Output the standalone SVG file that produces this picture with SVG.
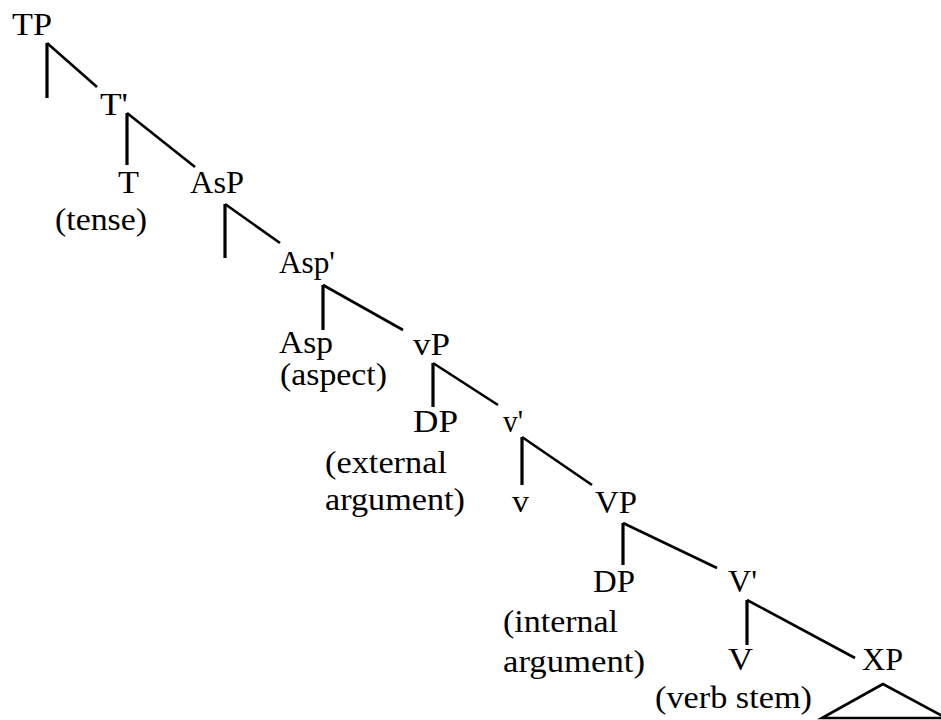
<svg xmlns="http://www.w3.org/2000/svg" width="941" height="720" viewBox="0 0 941 720">
<style>
text { font-family: "Liberation Serif", "Times New Roman", serif; font-size: 31px; fill: #000; }
.br { stroke: #000; stroke-width: 2.6; fill: none; stroke-linecap: butt; }
.vt { stroke: #000; stroke-width: 3.2; fill: none; }
</style>
<rect width="941" height="720" fill="#fff"/>
<g id="connectors">
  <line class="vt" x1="47" y1="43" x2="47" y2="98"/>
  <line class="br" x1="47" y1="43" x2="97" y2="87"/>
  <line class="vt" x1="127" y1="113" x2="127" y2="165"/>
  <line class="br" x1="127" y1="113" x2="195" y2="167"/>
  <line class="vt" x1="225" y1="204" x2="225" y2="258"/>
  <line class="br" x1="225" y1="204" x2="280" y2="243"/>
  <line class="vt" x1="323" y1="285" x2="323" y2="330"/>
  <line class="br" x1="323" y1="285" x2="403" y2="330"/>
  <line class="vt" x1="433" y1="363" x2="433" y2="407"/>
  <line class="br" x1="433" y1="363" x2="498" y2="405"/>
  <line class="vt" x1="522" y1="437" x2="522" y2="485"/>
  <line class="br" x1="522" y1="437" x2="592" y2="485"/>
  <line class="vt" x1="623" y1="523" x2="623" y2="565"/>
  <line class="br" x1="623" y1="523" x2="717" y2="568"/>
  <line class="vt" x1="747" y1="600" x2="747" y2="645"/>
  <line class="br" x1="747" y1="600" x2="855" y2="658"/>
  <polygon class="br" points="883,684 822,718 946,718"/>
</g>
<g id="TP"><text x="12" y="35" textLength="40" lengthAdjust="spacingAndGlyphs">TP</text></g>
<g id="Tbar"><text x="100" y="115" textLength="28" lengthAdjust="spacingAndGlyphs">T'</text></g>
<g id="T"><text x="118" y="193" textLength="21" lengthAdjust="spacingAndGlyphs">T</text>
<text x="55" y="230" textLength="92" lengthAdjust="spacingAndGlyphs">(tense)</text></g>
<g id="AsP"><text x="190" y="193" textLength="54" lengthAdjust="spacingAndGlyphs">AsP</text></g>
<g id="Aspbar"><text x="279" y="273" textLength="56" lengthAdjust="spacingAndGlyphs">Asp'</text></g>
<g id="Asp"><text x="279" y="353" textLength="54" lengthAdjust="spacingAndGlyphs">Asp</text>
<text x="280" y="385" textLength="107" lengthAdjust="spacingAndGlyphs">(aspect)</text></g>
<g id="vP"><text x="413" y="355" textLength="37" lengthAdjust="spacingAndGlyphs">vP</text></g>
<g id="DP1"><text x="413" y="432" textLength="45" lengthAdjust="spacingAndGlyphs">DP</text>
<text x="325" y="473" textLength="122" lengthAdjust="spacingAndGlyphs">(external</text>
<text x="325" y="510" textLength="140" lengthAdjust="spacingAndGlyphs">argument)</text></g>
<g id="vbar"><text x="503" y="432" textLength="20" lengthAdjust="spacingAndGlyphs">v'</text></g>
<g id="v"><text x="512" y="512" textLength="17" lengthAdjust="spacingAndGlyphs">v</text></g>
<g id="VP"><text x="595" y="513" textLength="42" lengthAdjust="spacingAndGlyphs">VP</text></g>
<g id="DP2"><text x="593" y="592" textLength="42" lengthAdjust="spacingAndGlyphs">DP</text>
<text x="503" y="632" textLength="115" lengthAdjust="spacingAndGlyphs">(internal</text>
<text x="503" y="672" textLength="142" lengthAdjust="spacingAndGlyphs">argument)</text></g>
<g id="Vbar"><text x="728" y="592" textLength="29" lengthAdjust="spacingAndGlyphs">V'</text></g>
<g id="V"><text x="728" y="670" textLength="25" lengthAdjust="spacingAndGlyphs">V</text>
<text x="655" y="708" textLength="157" lengthAdjust="spacingAndGlyphs">(verb stem)</text></g>
<g id="XP"><text x="862" y="670" textLength="41" lengthAdjust="spacingAndGlyphs">XP</text></g>
</svg>
